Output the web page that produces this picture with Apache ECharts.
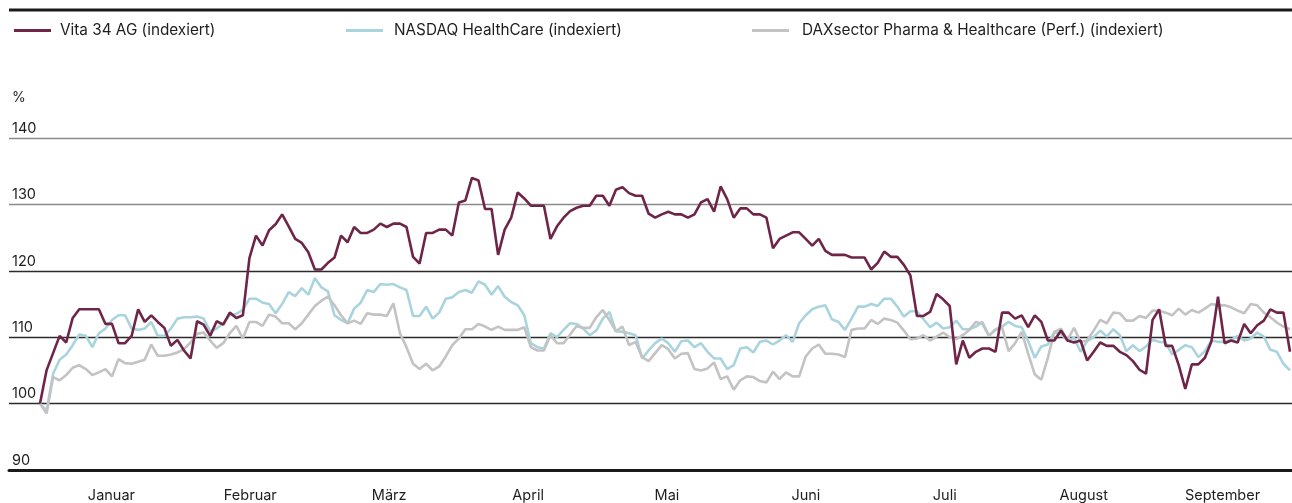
<!DOCTYPE html>
<html>
<head>
<meta charset="utf-8">
<script src="https://cdn.jsdelivr.net/npm/echarts@6/dist/echarts.min.js"></script>
<style>
html,body{margin:0;padding:0;background:#fff;}
#c{width:1292px;height:503px;}
</style>
</head>
<body>
<div id="c"></div>
<script>
// ---- data ----
const months = ['Januar','Februar','März','April','Mai','Juni','Juli','August','September'];
const yTicks = [90, 100, 110, 120, 130, 140];
const seriesNames = ['Vita 34 AG (indexiert)', 'NASDAQ HealthCare (indexiert)', 'DAXsector Pharma & Healthcare (Perf.) (indexiert)'];

const vita = [
100.0,105.0,107.6,110.2,109.2,112.9,114.2,114.2,114.2,114.2,
112.0,112.0,109.1,109.1,110.2,114.2,112.3,113.3,112.3,111.4,
108.7,109.6,108.0,106.8,112.4,111.9,110.2,112.4,111.9,113.7,
112.9,113.3,121.9,125.3,123.8,126.1,127.0,128.5,126.7,124.8,
124.2,122.8,120.2,120.2,121.2,122.0,125.3,124.3,126.6,125.7,
125.7,126.2,127.1,126.6,127.1,127.1,126.6,122.1,121.1,125.7,
125.7,126.2,126.2,125.3,130.3,130.6,134.0,133.6,129.3,129.3,
122.4,126.2,128.0,131.8,130.9,129.8,129.8,129.8,124.8,126.7,
128.0,129.0,129.5,129.8,129.8,131.3,131.3,129.8,132.2,132.6,
131.7,131.3,131.3,128.6,128.0,128.5,128.9,128.5,128.5,128.0,
128.5,130.3,130.8,128.9,132.7,130.8,128.0,129.4,129.4,128.5,
128.5,128.0,123.4,124.8,125.3,125.8,125.8,124.8,123.8,124.8,
123.0,122.4,122.4,122.4,122.0,122.0,122.0,120.2,121.2,122.9,
122.1,122.1,120.9,119.3,113.2,113.2,113.8,116.5,115.7,114.7,
105.9,109.5,106.9,107.8,108.3,108.3,107.8,113.7,113.7,112.8,
113.3,111.5,113.3,112.3,109.5,109.5,111.0,109.5,109.2,109.5,
106.5,107.8,109.2,108.7,108.7,107.8,107.3,106.4,105.1,104.5,
112.6,114.2,108.7,108.7,105.8,102.2,105.9,105.9,106.9,109.4,
116.1,109.1,109.5,109.2,112.0,110.6,111.8,112.5,114.2,113.7,
113.7,107.8
];

const nasdaq = [
100.0,98.9,104.5,106.6,107.4,108.8,110.4,110.2,108.5,110.6,
111.3,112.6,113.3,113.3,111.3,111.1,111.3,112.3,110.2,110.2,
111.3,112.8,113.0,113.0,113.1,112.8,110.9,111.3,112.1,113.3,
113.5,114.1,115.8,115.8,115.2,115.0,113.6,115.0,116.8,116.2,
117.4,116.4,118.9,117.5,116.9,113.3,112.6,112.1,114.3,115.2,
117.1,116.8,118.0,117.9,118.0,117.5,117.1,113.2,113.2,114.6,
112.8,113.7,115.8,116.0,116.8,117.1,116.7,118.4,117.9,116.4,
117.7,116.1,115.3,114.8,113.3,109.1,108.5,108.3,110.6,110.0,
111.1,112.1,112.0,111.3,110.3,111.0,112.8,113.8,110.9,110.8,
110.6,110.3,106.8,108.0,109.1,109.8,109.1,107.8,109.4,109.5,
108.5,109.1,107.8,106.8,106.8,105.2,105.8,108.3,108.5,107.7,
109.3,109.5,108.9,109.5,110.3,109.3,112.1,113.3,114.2,114.6,
114.8,112.7,112.3,111.1,112.8,114.6,114.6,115.0,114.7,115.8,
115.8,114.6,113.1,113.9,113.9,112.7,111.5,112.2,111.3,111.5,
112.5,111.2,111.2,111.6,112.3,110.2,111.2,111.6,112.3,111.7,
111.5,109.4,106.9,108.6,108.9,110.8,110.5,109.5,109.9,107.8,
109.4,110.0,111.0,110.1,111.2,110.3,107.9,108.8,107.9,108.6,
109.6,109.3,109.2,107.4,108.1,108.8,108.5,107.0,107.9,109.5,
109.3,109.3,109.6,110.2,109.5,109.8,110.7,110.1,108.1,107.8,
106.0,105.0
];

const dax = [
100.0,98.5,104.0,103.5,104.3,105.4,105.8,105.2,104.3,104.7,
105.2,104.1,106.7,106.1,106.0,106.3,106.6,108.9,107.2,107.2,
107.4,107.7,108.2,109.2,110.5,110.7,109.5,108.4,109.1,110.6,
111.7,109.8,112.3,112.3,111.7,113.4,113.1,112.1,112.1,111.2,
112.1,113.4,114.7,115.5,116.1,114.8,113.3,112.1,112.5,112.0,
113.6,113.4,113.4,113.2,115.1,110.6,108.5,106.0,105.2,106.0,
105.0,105.6,107.1,108.8,109.8,111.2,111.2,112.0,111.6,111.1,
111.6,111.1,111.1,111.1,111.5,108.5,108.0,108.0,110.3,109.1,
109.1,110.4,111.7,111.4,111.4,113.0,114.1,112.6,110.9,111.6,
108.8,109.3,107.0,106.4,107.6,108.8,108.2,106.8,107.5,107.6,
105.2,105.0,105.3,106.2,103.7,104.1,102.1,103.5,104.1,104.0,
103.4,103.2,104.8,103.7,104.7,104.1,104.1,107.1,108.3,108.9,
107.5,107.5,107.4,107.0,111.1,111.3,111.3,112.6,112.0,112.8,
112.6,112.2,111.0,109.7,109.8,110.3,109.5,110.1,110.7,110.0,
109.7,110.3,111.1,112.3,112.0,110.2,111.1,111.5,107.9,109.1,
110.8,107.5,104.4,103.6,106.9,110.8,111.3,109.6,111.4,109.3,
109.5,111.0,112.6,112.1,113.7,113.6,112.5,112.5,113.2,112.9,
114.0,114.0,113.7,113.3,114.3,113.4,114.1,113.7,114.3,115.0,
114.8,114.8,114.5,114.0,113.6,115.0,114.8,113.7,113.0,112.2,
111.6,111.2
];

// ---- chart ----
const FONT = 'Inter, "Noto Sans", sans-serif';
const TXT = '#1e1e1e';
const colors = ['#6e2548', '#a9d4dd', '#c3c3c3'];
const N = vita.length;
const pairs = arr => arr.map((v, i) => [i, v]);

const chart = echarts.init(document.getElementById('c'), null, {renderer: 'canvas'});

const GRID_TOP = 138, GRID_BOTTOM = 33;

function legendFor(idx, left, gap) {
  return {
    data: [seriesNames[idx]],
    left: left, top: 23, padding: 0,
    icon: 'rect', itemWidth: 37, itemHeight: 3,
    textStyle: {fontFamily: FONT, fontSize: 15.3, color: TXT, padding: [0, 0, 0, gap]},
    selectedMode: false
  };
}

chart.setOption({
  animation: false,
  backgroundColor: '#fff',
  color: colors,
  legend: [legendFor(0, 14, 4), legendFor(1, 346, 6), legendFor(2, 752, 8)],
  graphic: [{
    type: 'line', shape: {x1: 9, y1: 10, x2: 1292, y2: 10},
    style: {stroke: '#1a1a1a', lineWidth: 3}, silent: true
  }],
  grid: [
    {left: 9, right: 0, top: GRID_TOP, bottom: GRID_BOTTOM},
    {left: 40, right: 2, top: GRID_TOP, bottom: GRID_BOTTOM},
    {left: 42, right: -1, top: GRID_TOP, bottom: GRID_BOTTOM}
  ],
  xAxis: [
    {gridIndex: 0, type: 'value', min: 0, max: 1, axisLabel: {show: false}, axisTick: {show: false},
     splitLine: {show: false}, axisLine: {show: true, lineStyle: {color: '#1a1a1a', width: 3}}},
    {gridIndex: 1, type: 'value', min: 0, max: N - 1, show: false},
    {gridIndex: 2, type: 'category', data: months, boundaryGap: true, position: 'bottom',
     axisLine: {show: false}, axisTick: {show: false},
     axisLabel: {fontFamily: FONT, fontSize: 14.5, color: TXT, margin: 19, interval: 0}}
  ],
  yAxis: [
    {gridIndex: 0, type: 'value', min: yTicks[0], max: yTicks[yTicks.length - 1], interval: 10,
     name: '%', nameLocation: 'end', nameGap: 40,
     nameTextStyle: {fontFamily: FONT, fontSize: 14, color: TXT, align: 'left', padding: [0, 0, 0, 3], verticalAlign: 'middle'},
     axisLine: {show: false}, axisTick: {show: false},
     axisLabel: {inside: true, margin: 3, fontFamily: FONT, fontSize: 14.5, color: TXT,
                 verticalAlign: 'bottom', padding: [0, 0, 2, 0]},
     splitLine: {show: true, lineStyle: {color: ['#2b2b2b', '#2b2b2b', '#2b2b2b', '#2b2b2b', '#8a8a8a', '#8a8a8a'], width: 1.4}}},
    {gridIndex: 1, type: 'value', min: 90, max: 140, show: false},
    {gridIndex: 2, type: 'value', min: 90, max: 140, show: false}
  ],
  series: [
    {name: seriesNames[1], type: 'line', xAxisIndex: 1, yAxisIndex: 1, data: pairs(nasdaq),
     showSymbol: false, symbol: 'none', lineStyle: {width: 2.6, color: colors[1]}, itemStyle: {color: colors[1]}, z: 2},
    {name: seriesNames[2], type: 'line', xAxisIndex: 1, yAxisIndex: 1, data: pairs(dax),
     showSymbol: false, symbol: 'none', lineStyle: {width: 2.6, color: colors[2]}, itemStyle: {color: colors[2]}, z: 3},
    {name: seriesNames[0], type: 'line', xAxisIndex: 1, yAxisIndex: 1, data: pairs(vita),
     showSymbol: false, symbol: 'none', lineStyle: {width: 2.6, color: colors[0]}, itemStyle: {color: colors[0]}, z: 4}
  ]
});
</script>
</body>
</html>
